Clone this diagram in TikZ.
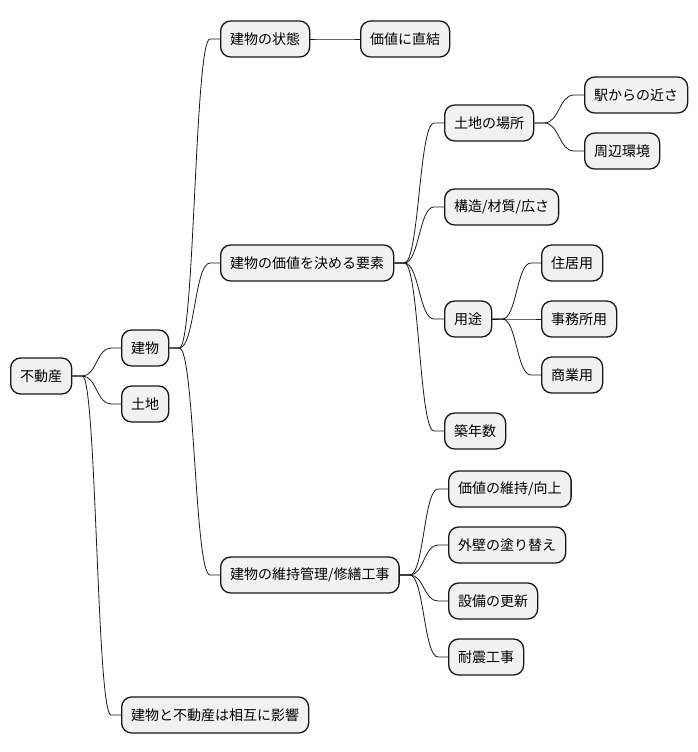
\documentclass[tikz,border=0pt]{standalone}
\usepackage{fontspec}
\setmainfont{Noto Sans CJK JP}
\usetikzlibrary{calc}
\definecolor{boxfill}{HTML}{F1F1F1}
\definecolor{boxline}{HTML}{181818}
\tikzset{
  box/.style={draw=boxline, fill=boxfill, line width=1.3pt, rounded corners=10pt,
    minimum height=36pt, inner xsep=9.5pt, anchor=west,
    font=\fontsize{14pt}{16pt}\selectfont},
  edge/.style={draw=boxline, line width=0.8pt}
}
\newcommand{\branch}[2]{\draw[edge] let \p1=(#1.east), \p2=(#2.west) in
  (\p1) -- (\x1+10pt,\y1) .. controls ({(\x1+\x2)/2},\y1) and ({(\x1+\x2)/2},\y2) .. (\x2-10pt,\y2) -- (\p2);}
\begin{document}
\begin{tikzpicture}[x=1pt,y=-1pt]
\useasboundingbox (0,0) rectangle (698,752);
\node[box] (fd) at (10,376){不動産};
\node[box] (tt) at (121,348){建物};
\node[box] (tc) at (121,404){土地};
\node[box] (sg) at (121,715){建物と不動産は相互に影響};
\branch{fd}{tt}
\branch{fd}{tc}
\branch{fd}{sg}

\node[box] (jt) at (220,39){建物の状態};
\node[box] (kc) at (360,39){価値に直結};
\branch{tt}{jt}
\branch{jt}{kc}

\node[box] (yo) at (220,263){建物の価値を決める要素};
\branch{tt}{yo}
\node[box] (bs) at (444,123){土地の場所};
\node[box] (ek) at (584,95){駅からの近さ};
\node[box] (sh) at (584,151){周辺環境};
\branch{yo}{bs}
\branch{bs}{ek}
\branch{bs}{sh}
\node[box] (kz) at (444,207){構造/材質/広さ};
\branch{yo}{kz}
\node[box] (yt) at (444,319){用途};
\node[box] (jk) at (541,263){住居用};
\node[box] (jm) at (541,319){事務所用};
\node[box] (sy) at (541,375){商業用};
\branch{yo}{yt}
\branch{yt}{jk}
\branch{yt}{jm}
\branch{yt}{sy}
\node[box] (cn) at (444,431){築年数};
\branch{yo}{cn}

\node[box] (ik) at (220,575){建物の維持管理/修繕工事};
\branch{tt}{ik}
\node[box] (ko) at (448,489){価値の維持/向上};
\node[box] (gh) at (448,545){外壁の塗り替え};
\node[box] (sb) at (448,601){設備の更新};
\node[box] (tk) at (448,657){耐震工事};
\branch{ik}{ko}
\branch{ik}{gh}
\branch{ik}{sb}
\branch{ik}{tk}

\end{tikzpicture}
\end{document}
